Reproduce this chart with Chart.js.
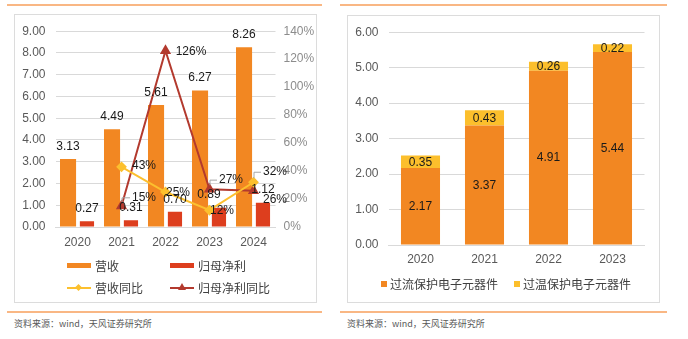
<!DOCTYPE html>
<html><head><meta charset="utf-8">
<script src="https://cdn.jsdelivr.net/npm/chart.js@4.4.0/dist/chart.umd.min.js"></script>
<style>
body{margin:0;width:688px;height:339px;background:#fff;position:relative;overflow:hidden;font-family:"Liberation Sans","Noto Sans CJK SC",sans-serif;}
.hr{position:absolute;height:2px;background:#F9B784}
.box{position:absolute;border:1px solid #DCDCDC;box-sizing:border-box}
.src{position:absolute;font-size:9px;color:#595959;font-family:"Noto Sans CJK SC",sans-serif;line-height:12px;white-space:nowrap}
.leg{position:absolute;font-size:12px;color:#404040;font-family:"Noto Sans CJK SC",sans-serif;line-height:14px;white-space:nowrap}
.mk{position:absolute}
canvas{position:absolute}
</style>
</head><body>
<div class="hr" style="left:7px;top:4px;width:315px"></div>
<div class="hr" style="left:7px;top:311px;width:315px"></div>
<div class="hr" style="left:340px;top:4px;width:327px"></div>
<div class="hr" style="left:340px;top:311px;width:327px"></div>
<div class="box" style="left:14px;top:14px;width:303px;height:289px"></div>
<div class="box" style="left:347px;top:15px;width:313px;height:288px"></div>

<canvas id="c1" width="302" height="245" style="left:14px;top:14px;width:302px;height:245px"></canvas>
<canvas id="c2" width="312" height="255" style="left:347px;top:15px;width:312px;height:255px"></canvas>

<!-- left legend -->
<div class="mk" style="left:67px;top:263px;width:24px;height:5px;background:#F28722"></div>
<div class="leg" style="left:95px;top:259px">营收</div>
<div class="mk" style="left:170px;top:263px;width:24px;height:5px;background:#DD3E1E"></div>
<div class="leg" style="left:198px;top:259px">归母净利</div>
<div class="mk" style="left:67px;top:287px;width:24px;height:2px;background:#FCC02E"></div>
<div class="mk" style="left:76px;top:285px;width:5px;height:5px;background:#FCC02E;transform:rotate(45deg)"></div>
<div class="leg" style="left:95px;top:281px">营收同比</div>
<div class="mk" style="left:170px;top:287px;width:24px;height:2px;background:#B33A2E"></div>
<div class="mk" style="left:178px;top:283px;width:0;height:0;border-left:4px solid transparent;border-right:4px solid transparent;border-bottom:7px solid #B33A2E"></div>
<div class="leg" style="left:198px;top:281px">归母净利同比</div>

<!-- right legend -->
<div class="mk" style="left:381px;top:281px;width:6px;height:6px;background:#F28722"></div>
<div class="leg" style="left:390px;top:277px">过流保护电子元器件</div>
<div class="mk" style="left:514px;top:281px;width:6px;height:6px;background:#FCBF2C"></div>
<div class="leg" style="left:523px;top:277px">过温保护电子元器件</div>

<div class="src" style="left:14px;top:318px">资料来源：wind，天风证券研究所</div>
<div class="src" style="left:347px;top:318px">资料来源：wind，天风证券研究所</div>

<script>
// ---------- data ----------
const yearsLeft = ['2020','2021','2022','2023','2024'];
const revenue = [3.13, 4.49, 5.61, 6.27, 8.26];
const netProfit = [0.27, 0.31, 0.70, 0.89, 1.12];
const revenueYoY = [null, 43, 25, 12, 32];
const profitYoY = [null, 15, 126, 27, 26];

const yearsRight = ['2020','2021','2022','2023'];
const overCurrent = [2.17, 3.37, 4.91, 5.44];
const overTemp = [0.35, 0.43, 0.26, 0.22];

// ---------- styles ----------
const FONT = '"Liberation Sans","Noto Sans CJK SC",sans-serif';
const C_ORANGE = '#F28722', C_RED = '#DD3E1E', C_YEL = '#FCC02E', C_DRED = '#B33A2E', C_YEL2 = '#FCBF2C';
const GRID = '#D9D9D9';

// label placement tweaks (px)
const barLabelDx = [[0,0,0,0,0],[0,0,0,-10,0]];
const lineLabelOff = {
  2: [null, [22.5,-1,false], [12.5,0.5,false], [12.5,0,false], [21.5,-10.5,true]],
  3: [null, [22.5,-8.7,true], [25.5,1,false], [21.5,-9.6,true], [21.5,9,false]]
};

const leftLabels = {
  id: 'leftLabels',
  afterDatasetsDraw(chart) {
    const ctx = chart.ctx;
    ctx.save();
    ctx.font = '12px ' + FONT;
    ctx.fillStyle = '#1A1A1A';
    ctx.textAlign = 'center';
    ctx.textBaseline = 'middle';
    [0,1].forEach(i => {
      const meta = chart.getDatasetMeta(i);
      const data = chart.data.datasets[i].data;
      meta.data.forEach((el, j) => {
        ctx.fillText(data[j].toFixed(2), el.x + barLabelDx[i][j], el.y - 12.5);
      });
    });
    [2,3].forEach(i => {
      const meta = chart.getDatasetMeta(i);
      const data = chart.data.datasets[i].data;
      meta.data.forEach((el, j) => {
        if (data[j] == null) return;
        const o = lineLabelOff[i][j];
        const txt = data[j] + '%';
        const lx = el.x + o[0], ly = el.y + o[1];
        if (o[2]) {
          const w = ctx.measureText(txt).width;
          ctx.save();
          ctx.strokeStyle = '#A6A6A6'; ctx.lineWidth = 1;
          ctx.beginPath();
          ctx.moveTo(el.x + 0.5, el.y - 4);
          ctx.lineTo(el.x + 0.5, ly + 0.5);
          ctx.lineTo(lx - w/2 - 2, ly + 0.5);
          ctx.stroke();
          ctx.restore();
        }
        ctx.fillText(txt, lx, ly);
      });
    });
    ctx.restore();
  }
};

new Chart(document.getElementById('c1'), {
  data: {
    labels: yearsLeft,
    datasets: [
      {type:'bar', label:'营收', data: revenue, backgroundColor: C_ORANGE, yAxisID:'y', order:2, categoryPercentage:0.86, barPercentage:0.85},
      {type:'bar', label:'归母净利', data: netProfit, backgroundColor: C_RED, yAxisID:'y', order:2, categoryPercentage:0.86, barPercentage:0.75},
      {type:'line', label:'营收同比', data: revenueYoY, borderColor: C_YEL, backgroundColor: C_YEL, borderWidth:2, pointStyle:'rectRot', pointRadius:4, yAxisID:'y1', order:1, spanGaps:false},
      {type:'line', label:'归母净利同比', data: profitYoY, borderColor: C_DRED, backgroundColor: C_DRED, borderWidth:2, pointStyle:'triangle', pointRadius:4.5, yAxisID:'y1', order:1}
    ]
  },
  options: {
    animation:false, responsive:false, maintainAspectRatio:false,
    layout:{padding:{top:14,left:0,right:0,bottom:0}},
    plugins:{legend:{display:false}, tooltip:{enabled:false}},
    scales:{
      x:{grid:{display:false, drawTicks:false}, border:{display:true,color:GRID},
         ticks:{padding:8,color:'#595959',font:{size:12,family:FONT}},
         afterFit(s){s.height=32;}},
      y:{position:'left',min:0,max:9,
         ticks:{stepSize:1,padding:10,color:'#595959',font:{size:12,family:FONT},callback:v=>v.toFixed(2)},
         grid:{color:GRID,drawTicks:false}, border:{display:false},
         afterFit(s){s.width=41.5;}},
      y1:{position:'right',min:0,max:140,
         ticks:{stepSize:20,padding:8,color:'#8C8C8C',font:{size:12,family:FONT},callback:v=>v+'%'},
         grid:{display:false,drawTicks:false}, border:{display:false},
         afterFit(s){s.width=40.5;}}
    }
  },
  plugins:[leftLabels]
});

const rightLabels = {
  id: 'rightLabels',
  afterDatasetsDraw(chart) {
    const ctx = chart.ctx;
    ctx.save();
    ctx.font = '12px ' + FONT;
    ctx.fillStyle = '#1A1A1A';
    ctx.textAlign = 'center';
    ctx.textBaseline = 'middle';
    [0,1].forEach(i => {
      const meta = chart.getDatasetMeta(i);
      const data = chart.data.datasets[i].data;
      meta.data.forEach((el, j) => {
        ctx.fillText(data[j].toFixed(2), el.x, (el.y + el.base)/2 + 0.5);
      });
    });
    ctx.restore();
  }
};

new Chart(document.getElementById('c2'), {
  type:'bar',
  data: {
    labels: yearsRight,
    datasets: [
      {label:'过流保护电子元器件', data: overCurrent, backgroundColor: C_ORANGE, stack:'s', categoryPercentage:1, barPercentage:0.61},
      {label:'过温保护电子元器件', data: overTemp, backgroundColor: C_YEL2, stack:'s', categoryPercentage:1, barPercentage:0.61}
    ]
  },
  options: {
    animation:false, responsive:false, maintainAspectRatio:false,
    layout:{padding:{top:14,left:0,right:14.5,bottom:0}},
    plugins:{legend:{display:false}, tooltip:{enabled:false}},
    scales:{
      x:{stacked:true, grid:{display:false, drawTicks:false}, border:{display:true,color:GRID},
         ticks:{padding:7,color:'#595959',font:{size:12,family:FONT}},
         afterFit(s){s.height=25;}},
      y:{stacked:true, min:0, max:6,
         ticks:{stepSize:1,padding:10,color:'#595959',font:{size:12,family:FONT},callback:v=>v.toFixed(2)},
         grid:{color:GRID,drawTicks:false}, border:{display:false},
         afterFit(s){s.width=41.5;}}
    }
  },
  plugins:[rightLabels]
});
</script>
</body></html>
